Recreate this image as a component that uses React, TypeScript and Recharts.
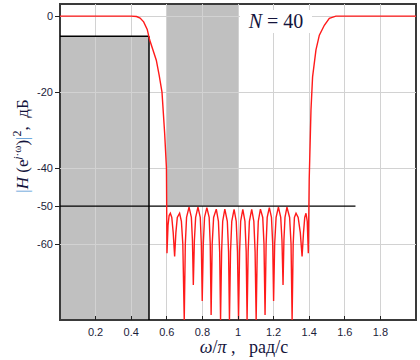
import React from 'react';
import { ComposedChart, Line, Area, XAxis, YAxis, ReferenceArea, ReferenceLine } from 'recharts';

// Frequency (ω/π) and squared magnitude response (dB)
const freq = [
  0, 0.2, 0.4, 0.43, 0.45, 0.47, 0.49, 0.504, 0.52, 0.541, 0.557, 0.573, 0.588, 0.598,
  0.601, 0.607, 0.613, 0.62, 0.628, 0.636, 0.644, 0.651, 0.659, 0.672, 0.682, 0.69,
  0.698, 0.704, 0.711, 0.725, 0.738, 0.744, 0.749, 0.755, 0.762, 0.775, 0.788, 0.794,
  0.799, 0.805, 0.812, 0.825, 0.838, 0.844, 0.849, 0.855, 0.863, 0.878, 0.89, 0.897,
  0.902, 0.908, 0.914, 0.926, 0.94, 0.947, 0.952, 0.958, 0.965, 0.978, 0.99, 0.997,
  1.003, 1.009, 1.015, 1.027, 1.039, 1.046, 1.051, 1.057, 1.064, 1.077, 1.089, 1.096,
  1.102, 1.108, 1.114, 1.126, 1.139, 1.146, 1.152, 1.158, 1.164, 1.176, 1.188, 1.195,
  1.2, 1.206, 1.214, 1.227, 1.24, 1.247, 1.253, 1.258, 1.264, 1.275, 1.29, 1.298,
  1.304, 1.31, 1.317, 1.326, 1.338, 1.35, 1.36, 1.368, 1.375, 1.382, 1.389, 1.395,
  1.4, 1.41, 1.419, 1.438, 1.457, 1.485, 1.513, 1.55, 1.6, 2.0,
];
const gainDb = [
  0, 0, 0, -0.1, -0.5, -1.5, -3.5, -6.3, -8.6, -11.6, -15.5, -20, -30.9, -40,
  -62.4, -55, -52.5, -51.9, -53, -57, -63.3, -57, -53, -51.9, -54, -60,
  -80, -60, -53, -50.3, -53, -59, -70.8, -59, -53, -50.3, -53, -60,
  -75, -60, -53, -50.4, -53, -60, -78.7, -60, -53, -50.8, -54, -62,
  -80, -62, -54, -50.8, -54, -62, -80, -62, -54, -50.9, -54, -62,
  -80, -62, -54, -50.9, -54, -62, -80, -62, -54, -50.9, -54, -62,
  -80, -62, -54, -50.8, -53, -60, -78.7, -60, -53, -50.4, -53, -60,
  -75, -60, -53, -50.3, -53, -59, -70.8, -59, -53, -50.3, -53, -60,
  -80, -60, -53, -51.9, -53, -57, -63.3, -57, -53, -51.9, -54, -62.4,
  -43, -24.7, -16, -8.9, -5, -2.4, -0.6, 0, 0, 0,
];

const xTicks = [0.2, 0.4, 0.6, 0.8, 1, 1.2, 1.4, 1.6, 1.8];
const yTicks = [0, -20, -40, -50, -60];
const gridY = [0, -20, -40, -60];
const xDomain = [0, 2];
const yDomain = [-80, 3.2];

// Specification template
const passbandEdge = 0.5;
const passbandFloor = -5.3;
const stopbandStart = 0.6;
const stopbandEnd = 1.0;
const stopbandLevel = -50;
const stopbandLineEnd = 1.66;

const data = freq.map((f, i) => ({ f, g: gainDb[i] }));
const passBox = [
  { f: xDomain[0], lo: yDomain[0], hi: passbandFloor },
  { f: passbandEdge, lo: yDomain[0], hi: passbandFloor },
];
const stopBox = [
  { f: stopbandStart, lo: stopbandLevel, hi: yDomain[1] },
  { f: stopbandEnd, lo: stopbandLevel, hi: yDomain[1] },
];

const tickColor = '#1c1c3a';
const gridColor = '#d2d2d2';
const greyFill = '#c0c0c0';

const XTick = (props: any) => {
  const { x, y, payload } = props;
  const v = payload.value as number;
  const label = v === 1 ? '1' : v.toFixed(1);
  return (
    <g>
      <line x1={x} x2={x} y1={y} y2={y - 4} stroke="#222" strokeWidth={1} shapeRendering="crispEdges" />
      <text x={x} y={y + 16} textAnchor="middle" fontSize={11} fontFamily="'Liberation Sans', Arial, sans-serif" fill={tickColor}>
        {label}
      </text>
    </g>
  );
};

const range = (d: any) => [d.lo, d.hi];

export default function App() {
  return (
    <div style={{ position: 'relative', width: 420, height: 360, background: '#fff' }}>
      <style>{'body{margin:0;} .grid-line line{shape-rendering:crispEdges;}'}</style>
      <ComposedChart width={420} height={360} data={data} margin={{ top: 4, right: 4, bottom: 0, left: 0 }}>
        <XAxis
          type="number"
          dataKey="f"
          domain={xDomain}
          ticks={xTicks}
          axisLine={false}
          tickLine={false}
          tickSize={0}
          tickMargin={0}
          height={40}
          tick={<XTick />}
          allowDataOverflow
        />
        <YAxis
          type="number"
          domain={yDomain}
          ticks={yTicks}
          width={60}
          axisLine={false}
          tickSize={5}
          tickMargin={2}
          tickLine={{ stroke: '#222', shapeRendering: 'crispEdges' } as any}
          tick={{ fontSize: 11, fill: tickColor, fontFamily: "'Liberation Sans', Arial, sans-serif" }}
          allowDataOverflow
        />
        <Area data={passBox} dataKey={range} type="linear" fill={greyFill} fillOpacity={1} stroke="none" isAnimationActive={false} activeDot={false} />
        <Area data={stopBox} dataKey={range} type="linear" fill={greyFill} fillOpacity={1} stroke="none" isAnimationActive={false} activeDot={false} />
        {xTicks.map((t) => (
          <ReferenceLine key={'gx' + t} x={t} stroke={gridColor} strokeWidth={1} className="grid-line" shapeRendering="crispEdges" />
        ))}
        {gridY.map((t) => (
          <ReferenceLine key={'gy' + t} y={t} stroke={gridColor} strokeWidth={1} className="grid-line" shapeRendering="crispEdges" />
        ))}
        <ReferenceLine
          segment={[{ x: xDomain[0], y: stopbandLevel }, { x: stopbandLineEnd, y: stopbandLevel }]}
          stroke="#000"
          strokeWidth={1.2}
        />
        <ReferenceLine
          segment={[{ x: xDomain[0], y: passbandFloor }, { x: passbandEdge, y: passbandFloor }]}
          stroke="#000"
          strokeWidth={1.5}
        />
        <ReferenceLine
          segment={[{ x: passbandEdge, y: passbandFloor }, { x: passbandEdge, y: yDomain[0] }]}
          stroke="#000"
          strokeWidth={1.5}
        />
        <Line type="linear" dataKey="g" stroke="#ff1a1a" strokeWidth={1.4} dot={false} activeDot={false} isAnimationActive={false} />
        <ReferenceArea x1={xDomain[0]} x2={xDomain[1]} y1={yDomain[0]} y2={yDomain[1]} fill="none" stroke="#3a3a3a" strokeWidth={2} />
      </ComposedChart>

      <div
        style={{
          position: 'absolute', left: 240, top: 10, width: 72, height: 23, background: '#fff',
          display: 'flex', alignItems: 'center', justifyContent: 'center',
          fontFamily: "'Liberation Serif', 'Times New Roman', serif", fontSize: 20, color: '#14143c', whiteSpace: 'nowrap',
        }}
      >
        <i>N</i>&nbsp;=&nbsp;40
      </div>

      <div
        style={{
          position: 'absolute', left: 21, top: 146, transform: 'translate(-50%, -50%) rotate(-90deg)',
          fontFamily: "'Liberation Serif', 'Times New Roman', serif", fontSize: 17, color: '#14143c', whiteSpace: 'nowrap', lineHeight: 1,
        }}
      >
        <span style={{ color: '#4f95d6' }}>|</span>
        <i>H</i>&nbsp;(e<sup style={{ fontSize: 11 }}><i>j</i>·ω</sup>)
        <span style={{ color: '#4f95d6' }}>|</span>
        <sup style={{ fontSize: 12 }}>2</sup>,&nbsp;&nbsp;дБ
      </div>

      <div
        style={{
          position: 'absolute', left: 244, top: 347, transform: 'translate(-50%, -50%)',
          fontFamily: "'Liberation Serif', 'Times New Roman', serif", fontSize: 18, color: '#14143c', whiteSpace: 'nowrap', lineHeight: 1,
        }}
      >
        <i>ω</i>/<i>π</i>&nbsp;,&nbsp;&nbsp;&nbsp;рад/с
      </div>
    </div>
  );
}
